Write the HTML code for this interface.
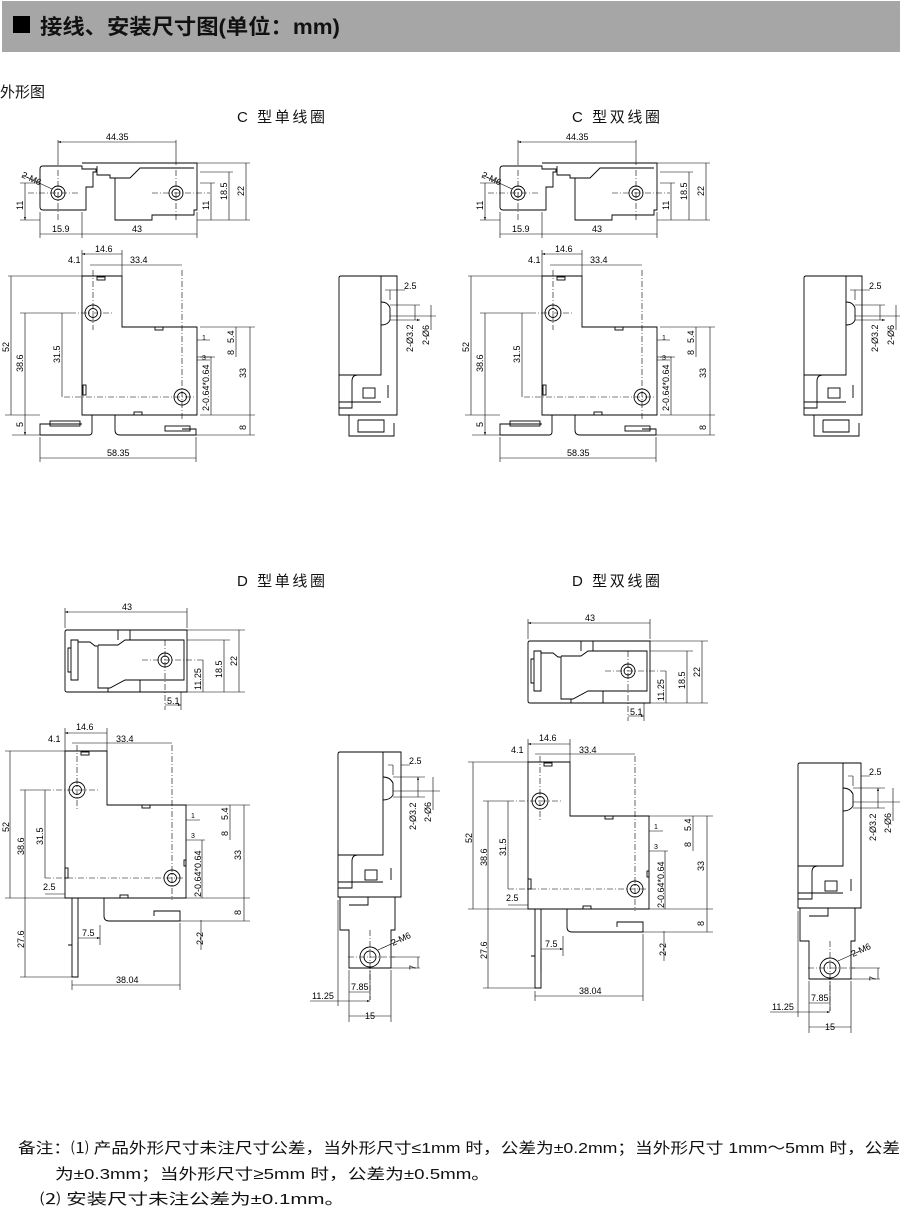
<!DOCTYPE html>
<html><head><meta charset="utf-8"><style>
html,body{margin:0;padding:0;background:#fff;width:900px;height:1207px;overflow:hidden}
svg{position:absolute;left:0;top:0}
.t{font-family:"Liberation Sans","Noto Sans CJK SC",sans-serif}
</style></head><body>
<svg width="900" height="1207" viewBox="0 0 900 1207" xmlns="http://www.w3.org/2000/svg">
<rect x="2" y="1" width="898" height="51" fill="#a6a6a6"/>
<rect x="13" y="16" width="17" height="17" fill="#000"/>
<text class="t" x="40" y="34" font-size="21" font-weight="bold" fill="#111" textLength="300" lengthAdjust="spacingAndGlyphs">接线、安装尺寸图(单位：mm)</text>
<text class="t" x="0" y="97" font-size="15" fill="#111">外形图</text>
<text class="t" x="237" y="122" font-size="15" fill="#111" textLength="88">C  型单线圈</text>
<text class="t" x="572" y="122" font-size="15" fill="#111" textLength="88">C  型双线圈</text>
<text class="t" x="237" y="586" font-size="15" fill="#111" textLength="88">D  型单线圈</text>
<text class="t" x="572" y="586" font-size="15" fill="#111" textLength="88">D  型双线圈</text>
<defs>
<marker id="a" viewBox="0 0 6 6" refX="6" refY="3" markerWidth="5" markerHeight="5" orient="auto-start-reverse"><path d="M0,1 L6,3 L0,5z" fill="#000"/></marker>
<g id="ctop" fill="none" stroke="#000" stroke-width="0.9">
<path d="M43,166 H82 V169 H96 V172 H93 V187 H86 V210 H43 Q40,210 40,207 V169 Q40,166 43,166z"/>
<path d="M82,163 H197 V210 H194 V215 H152 V220 H115 V178 H110 V175 H97 V166"/>
<path d="M115,178 H130 L140,168 H194"/>
<circle cx="58" cy="193" r="7"/><circle cx="58" cy="193" r="4"/>
<circle cx="176" cy="193" r="7"/><circle cx="176" cy="193" r="4"/>
<g stroke-width="0.6" stroke-dasharray="6,2,1,2"><path d="M28,193 H78 M58,170 V220 M152,193 H210 M176,170 V220"/></g>
<g stroke-width="0.6"><path d="M58,165 V140 M176,165 V140 M40,212 V238 M82,212 V238 M197,212 V238 M197,163 H250 M197,220 H250 M200,172 H233 M20,220 H40 M20,183 H40 M200,183 H215"/>
<path d="M58,142 H176 M40,234 H82 M82,234 H197 M246,163 V220 M229,172 V220 M211,183 V220 M25,183 V220" marker-start="url(#a)" marker-end="url(#a)"/>
<path d="M22,175 L52,189"/></g>
<g class="t" font-size="9" fill="#000" stroke="none"><text x="106" y="140">44.35</text><text x="52" y="232">15.9</text><text x="132" y="232">43</text>
<text x="21" y="177" transform="rotate(25 21 177)">2-M6</text>
<text transform="translate(23,210) rotate(-90)">11</text><text transform="translate(209,210) rotate(-90)">11</text><text transform="translate(227,200) rotate(-90)">18.5</text><text transform="translate(244,196) rotate(-90)">22</text></g>
</g>
<g id="cfront" fill="none" stroke="#000" stroke-width="0.9">
<path d="M82,276 H122 V327 H197 V415 H82z"/>
<path d="M82,415 H92 V432 Q92,435 89,435 H40 V424 H82"/>
<path d="M115,415 V430 Q115,435 120,435 H196 V429 H182"/>
<rect x="97" y="277" width="8" height="3"/><rect x="155" y="327" width="8" height="3"/><rect x="134" y="412" width="8" height="3"/><rect x="83" y="385" width="3" height="10"/>
<rect x="50" y="421" width="30" height="5"/><rect x="165" y="426" width="25" height="5"/>
<circle cx="93" cy="313" r="8"/><circle cx="93" cy="313" r="4.5"/>
<circle cx="182" cy="397" r="8"/><circle cx="182" cy="397" r="4.5"/>
<g stroke-width="0.6" stroke-dasharray="6,2,1,2"><path d="M70,313 H113 M93,270 V330 M64,397 H194 M182,270 V420"/></g>
<g stroke-width="0.6"><path d="M82,250 V276 M122,250 V276 M8,276 H82 M20,313 H70 M5,415 H40 M200,327 H255 M200,415 H255 M196,435 H255 M12,435 H40 M40,437 V462 M196,437 V462 M197,340 H210 M197,357 H215 M197,360 H210"/>
<path d="M82,254 H122 M90,265 H182 M11,276 V415 M25,313 V415 M62,313 V397 M250,327 V415 M250,415 V435 M236,327 V345 M236,345 V357 M40,458 H196 M25,415 V435" marker-start="url(#a)" marker-end="url(#a)"/>
<path d="M211,357 V415 M200,357 H212"/></g>
<g class="t" font-size="9" fill="#000" stroke="none"><text x="95" y="252">14.6</text><text x="68" y="263">4.1</text><text x="130" y="263">33.4</text><text x="107" y="456">58.35</text>
<text transform="translate(9,352) rotate(-90)">52</text><text transform="translate(23,372) rotate(-90)">38.6</text><text transform="translate(60,363) rotate(-90)">31.5</text>
<text transform="translate(246,378) rotate(-90)">33</text><text transform="translate(246,430) rotate(-90)">8</text><text transform="translate(234,343) rotate(-90)">5.4</text><text transform="translate(234,355) rotate(-90)">8</text>
<text transform="translate(23,427) rotate(-90)">5</text><text x="202" y="340" font-size="7">1</text><text x="202" y="360" font-size="7">3</text>
<text transform="translate(209,411) rotate(-90)">2-0.64*0.64</text></g>
</g>
<g id="cside" fill="none" stroke="#000" stroke-width="0.9">
<path d="M341,276 H397 V415 H339 V278 Q339,276 341,276z"/>
<path d="M381,276 V375 H358 Q352,375 352,381 V408 H339"/>
<path d="M339,375 H358 M339,402 H381"/>
<rect x="363" y="388" width="12" height="10"/><path d="M388,385 V398"/>
<path d="M381,302 Q388,302 390,308 V320 Q388,325 381,325"/>
<path d="M349,415 V436 H394 V423 M358,420 V432 H384 V420 H358"/>
<g stroke-width="0.6"><path d="M390,300 V290 M397,290 H405 M385,290 H397 M390,305 H420 M390,316 H436 M390,320 H420" marker-end="url(#a)"/><path d="M415,305 V320 M431,305 V330"/></g>
<g class="t" font-size="9" fill="#000" stroke="none"><text x="404" y="289">2.5</text><text transform="translate(413,352) rotate(-90)">2-Ø3.2</text><text transform="translate(429,345) rotate(-90)">2-Ø6</text></g>
</g>
<g id="dtop" fill="none" stroke="#000" stroke-width="0.9">
<path d="M67,630 H187 V692 H67 Q65,692 65,690 V632 Q65,630 67,630z"/>
<path d="M71,640 H78 V680 H71z M68,648 H71 V672 H68z M78,642 H90 L95,646 H98 V688 H110 L125,680 H184 V640 H125 L118,645 H98"/>
<path d="M118,630 V640 M130,630 V640 M140,680 V692 M108,688 V692"/>
<circle cx="165" cy="660" r="7"/><circle cx="165" cy="660" r="4"/>
<g stroke-width="0.6" stroke-dasharray="6,2,1,2"><path d="M142,660 H205 M165,640 V710"/></g>
<g stroke-width="0.6"><path d="M65,628 V608 M187,628 V608 M187,630 H245 M187,692 H245 M187,640 H230 M181,692 V710"/>
<path d="M65,612 H187 M239,630 V692 M224,640 V692 M203,660 V692 M165,705 H181" marker-start="url(#a)" marker-end="url(#a)"/></g>
<g class="t" font-size="9" fill="#000" stroke="none"><text x="122" y="610">43</text><text x="167" y="704">5.1</text>
<text transform="translate(201,690) rotate(-90)">11.25</text><text transform="translate(222,678) rotate(-90)">18.5</text><text transform="translate(237,666) rotate(-90)">22</text></g>
</g>
<g id="dfront" fill="none" stroke="#000" stroke-width="0.9">
<path d="M65,751 H107 V805 H186 V898 H65z"/>
<path d="M72,898 V977 H78 V898 M68,945 H72 V975 M104,898 V916 Q104,921 109,921 H180 V911 H154 V916"/>
<rect x="81" y="752" width="8" height="3"/><rect x="142" y="805" width="8" height="3"/><rect x="120" y="895" width="8" height="3"/><rect x="65" y="868" width="3" height="10"/><rect x="184" y="860" width="2" height="6"/>
<circle cx="77" cy="790" r="8"/><circle cx="77" cy="790" r="4.5"/>
<circle cx="172" cy="878" r="8"/><circle cx="172" cy="878" r="4.5"/>
<g stroke-width="0.6" stroke-dasharray="6,2,1,2"><path d="M45,790 H100 M77,745 V810 M45,878 H185 M172,745 V900"/></g>
<g stroke-width="0.6"><path d="M65,728 V751 M107,728 V751 M5,751 H65 M20,790 H45 M5,898 H65 M186,805 H250 M186,898 H250 M180,921 H250 M20,977 H72 M72,980 V990 M180,923 V990 M78,942 V960 M100,925 V945 M186,820 H200 M186,840 H205 M201,920 V950"/>
<path d="M65,733 H107 M72,743 H172 M10,751 V898 M25,790 V898 M45,790 V878 M244,805 V898 M244,898 V921 M230,805 V820 M230,820 V840 M25,898 V977 M72,985 H180 M78,938 H100" marker-start="url(#a)" marker-end="url(#a)"/>
<path d="M202,840 V898 M45,894 H65"/></g>
<g class="t" font-size="9" fill="#000" stroke="none"><text x="76" y="730">14.6</text><text x="48" y="742">4.1</text><text x="116" y="742">33.4</text><text x="43" y="890">2.5</text><text x="82" y="936">7.5</text><text x="116" y="983">38.04</text>
<text transform="translate(9,832) rotate(-90)">52</text><text transform="translate(24,855) rotate(-90)">38.6</text><text transform="translate(43,845) rotate(-90)">31.5</text><text transform="translate(24,948) rotate(-90)">27.6</text>
<text transform="translate(241,860) rotate(-90)">33</text><text transform="translate(241,915) rotate(-90)">8</text><text transform="translate(228,820) rotate(-90)">5.4</text><text transform="translate(228,836) rotate(-90)">8</text>
<text transform="translate(203,945) rotate(-90)">2-2</text><text x="191" y="818" font-size="7">1</text><text x="191" y="838" font-size="7">3</text>
<text transform="translate(201,897) rotate(-90)">2-0.64*0.64</text></g>
</g>
<g id="dside" fill="none" stroke="#000" stroke-width="0.9">
<path d="M340,752 H401 V897 H338 V754 Q338,752 340,752z"/>
<path d="M383,752 V855 H358 Q352,855 352,861 V888 H338 M338,855 H358 M338,882 H383"/>
<rect x="365" y="870" width="12" height="10"/><path d="M391,868 V880"/>
<path d="M383,777 Q390,777 393,783 V795 Q390,800 383,800"/>
<path d="M340,897 V930 H349 V968 H391 V930 H395 V897 M349,905 H368 V897"/>
<circle cx="370" cy="957" r="10"/><circle cx="370" cy="957" r="6"/>
<g stroke-width="0.6" stroke-dasharray="6,2,1,2"><path d="M348,957 H395 M370,930 V1000"/></g>
<g stroke-width="0.6"><path d="M393,775 V765 M401,765 H410 M388,765 H393 M393,777 H425 M393,791 H440 M393,797 H425 M391,957 H420 M391,968 H420 M349,970 V1022 M391,970 V1022 M338,900 V1006 M370,970 V1000 M310,1001 H338"/>
<path d="M418,777 V797 M433,777 V810 M418,957 V968 M349,992 H370 M349,1016 H391 M338,1001 H370" marker-start="url(#a)" marker-end="url(#a)"/>
<path d="M378,950 L400,940"/></g>
<g class="t" font-size="9" fill="#000" stroke="none"><text x="409" y="764">2.5</text><text transform="translate(416,830) rotate(-90)">2-Ø3.2</text><text transform="translate(431,822) rotate(-90)">2-Ø6</text>
<text x="393" y="946" transform="rotate(-25 393 946)">2-M6</text><text transform="translate(416,970) rotate(-90)">7</text><text x="351" y="990">7.85</text><text x="312" y="999">11.25</text><text x="365" y="1019">15</text></g>
</g>
</defs>
<use href="#ctop"/><use href="#cfront"/><use href="#cside"/>
<use href="#ctop" transform="translate(460,0)"/><use href="#cfront" transform="translate(460,0)"/><use href="#cside" transform="translate(465,0)"/>
<use href="#dtop"/><use href="#dfront"/><use href="#dside"/>
<use href="#dtop" transform="translate(463,11)"/><use href="#dfront" transform="translate(463,11)"/><use href="#dside" transform="translate(460,11)"/>
<g class="t" font-size="15" fill="#111">
<text x="18" y="1153" textLength="882" lengthAdjust="spacingAndGlyphs">备注：⑴ 产品外形尺寸未注尺寸公差，当外形尺寸≤1mm 时，公差为±0.2mm；当外形尺寸 1mm～5mm 时，公差</text>
<text x="55" y="1179" textLength="435" lengthAdjust="spacingAndGlyphs">为±0.3mm；当外形尺寸≥5mm 时，公差为±0.5mm。</text>
<text x="40" y="1204" textLength="305" lengthAdjust="spacingAndGlyphs">⑵ 安装尺寸未注公差为±0.1mm。</text>
</g>
</svg>
</body></html>
